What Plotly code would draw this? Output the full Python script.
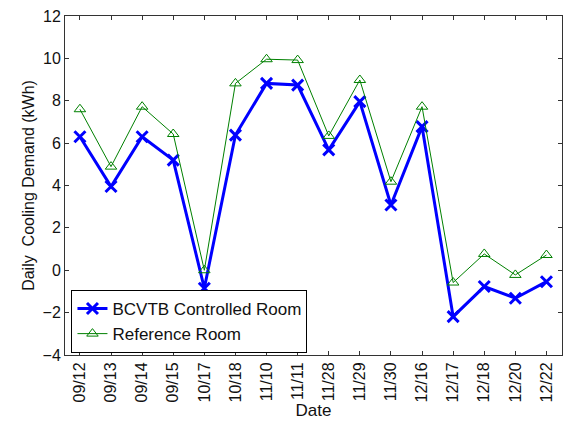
import plotly.graph_objects as go

dates = ["09/12", "09/13", "09/14", "09/15", "10/17", "10/18", "11/10", "11/11",
         "11/28", "11/29", "11/30", "12/16", "12/17", "12/18", "12/20", "12/22"]
bcvtb_room = [6.3, 3.95, 6.3, 5.2, -0.85, 6.38, 8.82, 8.74,
              5.68, 7.96, 3.08, 6.78, -2.19, -0.77, -1.32, -0.54]
reference_room = [7.6, 4.89, 7.72, 6.43, 0.0, 8.82, 9.96, 9.92,
                  6.34, 8.98, 4.18, 7.72, -0.58, 0.77, -0.22, 0.72]
y_ticks = [-4, -2, 0, 2, 4, 6, 8, 10, 12]

idx = list(range(len(dates)))
font = "Liberation Sans, Arial, sans-serif"

fig = go.Figure()
fig.add_trace(go.Scatter(
    x=idx, y=bcvtb_room, mode="lines+markers", name="BCVTB Controlled Room",
    line=dict(color="#0000ff", width=3),
    marker=dict(symbol="x-thin", size=11, line=dict(color="#0000ff", width=3)),
))
fig.add_trace(go.Scatter(
    x=idx, y=reference_room, mode="lines+markers", name="Reference Room",
    line=dict(color="#008000", width=1),
    marker=dict(symbol="triangle-up-open", size=10, color="#008000",
                line=dict(color="#008000", width=1)),
))

axis_common = dict(
    showline=True, linecolor="#333333", linewidth=1, mirror="ticks",
    ticks="inside", ticklen=4, tickcolor="#333333", showgrid=False, zeroline=False,
    tickfont=dict(family=font, size=16, color="#111111"),
)
fig.update_xaxes(
    range=[-0.48, 15.5], tickvals=idx, ticktext=dates, tickangle=-90,
    title=dict(text="Date", font=dict(family=font, size=17, color="#111111"), standoff=2),
    **axis_common,
)
fig.update_yaxes(
    range=[-4, 12], tickvals=y_ticks,
    title=dict(text="Daily  Cooling Demand (kWh)",
               font=dict(family=font, size=16, color="#111111"), standoff=3),
    **axis_common,
)
fig.update_layout(
    width=563, height=422,
    margin=dict(l=65, r=1, t=16, b=67),
    plot_bgcolor="white", paper_bgcolor="white",
    showlegend=True,
    legend=dict(
        x=0.013, y=0.006, xanchor="left", yanchor="bottom",
        bgcolor="white", bordercolor="#000000", borderwidth=1,
        font=dict(family=font, size=17, color="#111111"),
        tracegroupgap=0, itemwidth=30,
    ),
)
fig.write_html("out.html")
